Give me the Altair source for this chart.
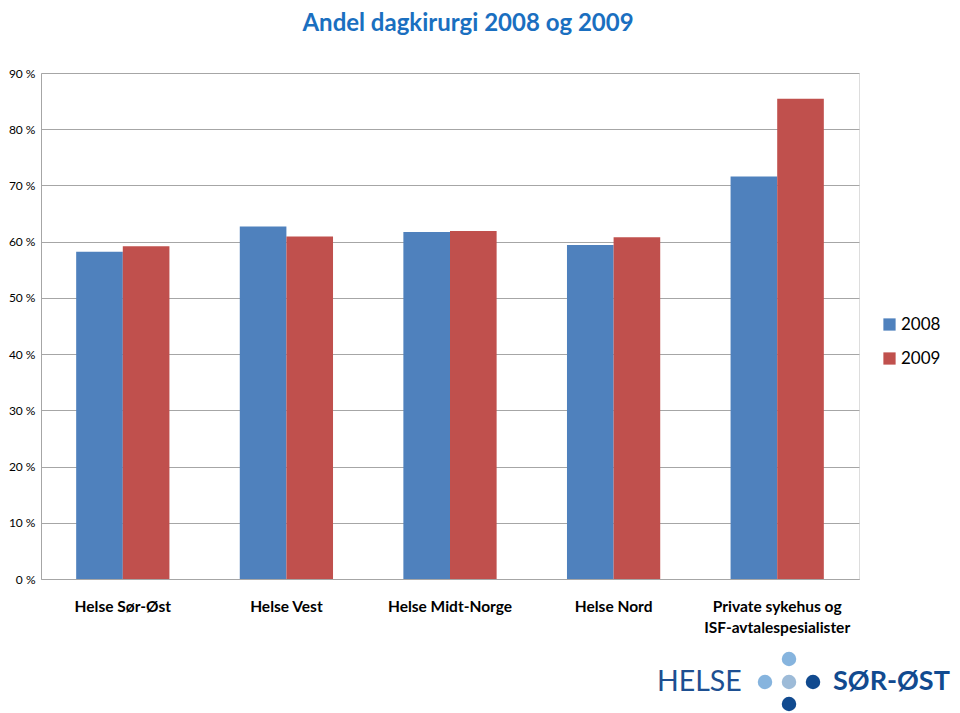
import altair as alt
import pandas as pd

categories = ["Helse Sør-Øst", "Helse Vest", "Helse Midt-Norge", "Helse Nord",
              "Private sykehus og ISF-avtalespesialister"]
years = ["2008", "2009"]
values_2008 = [58.2, 62.7, 61.7, 59.4, 71.6]
values_2009 = [59.2, 60.9, 61.9, 60.8, 85.4]
y_ticks = [0, 10, 20, 30, 40, 50, 60, 70, 80, 90]

rows = []
for c, a, b in zip(categories, values_2008, values_2009):
    rows.append({"region": c, "year": "2008", "value": a})
    rows.append({"region": c, "year": "2009", "value": b})
df = pd.DataFrame(rows)

FONT = "Lato"
BLUE = "#4F81BD"
RED = "#C0504D"
GRID = "#A6A6A6"

label_expr = ("datum.label == 'Private sykehus og ISF-avtalespesialister' ? "
              "['Private sykehus og', 'ISF-avtalespesialister'] : datum.label")

bars = alt.Chart(df).mark_bar().encode(
    x=alt.X("region:N", sort=categories, title=None,
            scale=alt.Scale(paddingInner=0.43, paddingOuter=0.215),
            axis=alt.Axis(labelAngle=0, labelFont=FONT, labelFontSize=15.5,
                          labelFontWeight="bold", labelColor="black",
                          labelPadding=20, labelLimit=0, labelLineHeight=21,
                          labelExpr=label_expr, ticks=False,
                          domainColor=GRID, domainWidth=1)),
    xOffset=alt.XOffset("year:N", sort=years, scale=alt.Scale(paddingInner=0, paddingOuter=0)),
    y=alt.Y("value:Q", title=None,
            scale=alt.Scale(domain=[0, 90], nice=False),
            axis=alt.Axis(values=y_ticks, labelExpr="datum.value + ' %'",
                          labelFont=FONT, labelFontSize=12, labelColor="black",
                          labelPadding=6, ticks=False, grid=True,
                          gridColor=GRID, gridWidth=1, domainColor=GRID,
                          domainWidth=1)),
    color=alt.Color("year:N", sort=years, title=None,
                    scale=alt.Scale(domain=years, range=[BLUE, RED]),
                    legend=alt.Legend(orient="none", legendX=840, legendY=243,
                                      symbolType="square", symbolSize=150,
                                      symbolStrokeWidth=0, labelFont=FONT,
                                      labelFontSize=17, labelColor="black",
                                      rowPadding=16, labelOffset=3)),
)

logo_dark = "#114A8F"
logo_light = "#86B4DE"
logo_mid = "#9DBBD8"

helse = alt.Chart(pd.DataFrame({"t": ["HELSE"]})).mark_text(
    font=FONT, fontSize=28.5, color="#1D4F91", align="left", baseline="middle"
).encode(text="t:N", x=alt.value(616), y=alt.value(609))

sor = alt.Chart(pd.DataFrame({"t": ["SØR-ØST"]})).mark_text(
    font=FONT, fontSize=27, fontWeight="bold", color=logo_dark, align="left",
    baseline="middle"
).encode(text="t:N", x=alt.value(792), y=alt.value(609))

def dot(x, y, col):
    return alt.Chart(pd.DataFrame({"d": [1]})).mark_circle(
        size=210, opacity=1, color=col
    ).encode(x=alt.value(x), y=alt.value(y))

chart = alt.layer(
    bars, helse, sor,
    dot(748, 586, logo_light), dot(724, 609, logo_light), dot(748, 609, logo_mid),
    dot(772, 609, logo_dark), dot(748, 631, logo_dark),
).properties(
    width=818, height=506,
    title=alt.TitleParams("Andel dagkirurgi 2008 og 2009", font=FONT, fontSize=24,
                          fontWeight="bold", color="#1A6FC0", anchor="middle",
                          offset=31, dx=18),
    autosize=alt.AutoSizeParams(type="none"),
    padding={"left": 33, "top": 65, "right": 93, "bottom": 134},
).configure_view(stroke=None).configure(background="white")

chart.save("out.html", embed_options={"renderer": "svg", "actions": False})
